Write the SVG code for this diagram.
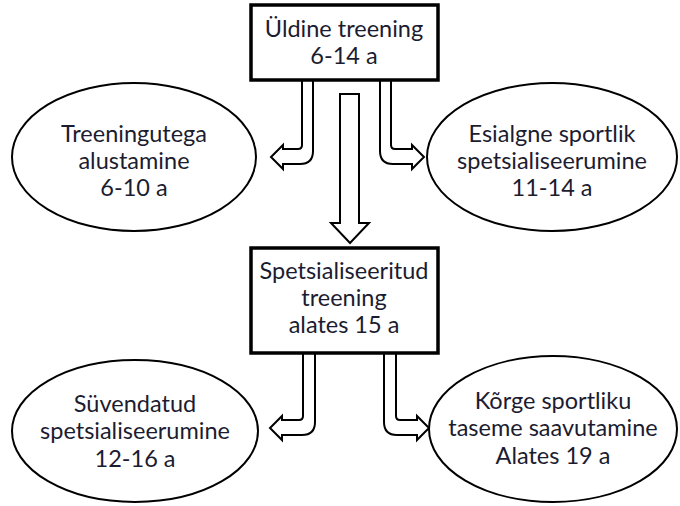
<svg xmlns="http://www.w3.org/2000/svg" width="680" height="506" viewBox="0 0 680 506">
<style>
.box{fill:#fff;stroke:#000;stroke-width:3.5}
.ell{fill:#fff;stroke:#000;stroke-width:2}
.arr{fill:#fff;stroke:#000;stroke-width:2;stroke-linejoin:miter}
text{font-family:Lato,"Open Sans","Liberation Sans",sans-serif;font-size:23.5px;fill:#1c1c30;text-anchor:middle}
</style>
<rect width="680" height="506" fill="#fff"/>
<g id="connectors">
<path class="arr" d="M302 80 L302 145 Q302 149 298 149 L283 149 L283 145 L271 157 L283 169 L283 164 L300 164 Q313 164 313 151 L313 80 Z"/>
<path class="arr" d="M391 80 L391 145 Q391 149 395 149 L412 149 L412 145 L424 157 L412 169 L412 164 L393 164 Q380 164 380 151 L380 80 Z"/>
<path class="arr" d="M340 94 L359 94 L359 223 L369 223 L350 243 L331 223 L340 223 Z"/>
<path class="arr" d="M303 353 L303 416 Q303 420 299 420 L282 420 L282 416 L270 428 L282 440 L282 435 L302 435 Q315 435 315 422 L315 353 Z"/>
<path class="arr" d="M396 353 L396 416 Q396 420 400 420 L417 420 L417 416 L429 428 L417 440 L417 435 L397 435 Q384 435 384 422 L384 353 Z"/>
</g>
<g id="n1">
<rect class="box" x="251" y="5" width="187" height="75"/>
<text x="344" y="37">Üldine treening</text>
<text x="344" y="64">6-14 a</text>
</g>
<g id="n2">
<ellipse class="ell" cx="134" cy="157" rx="122" ry="74"/>
<text x="134" y="142">Treeningutega</text>
<text x="134" y="169">alustamine</text>
<text x="134" y="196">6-10 a</text>
</g>
<g id="n3">
<ellipse class="ell" cx="552" cy="157" rx="125" ry="74"/>
<text x="552" y="142">Esialgne sportlik</text>
<text x="552" y="169">spetsialiseerumine</text>
<text x="552" y="196">11-14 a</text>
</g>
<g id="n4">
<rect class="box" x="251" y="248" width="187" height="105"/>
<text x="344" y="279">Spetsialiseeritud</text>
<text x="344" y="306">treening</text>
<text x="344" y="333">alates 15 a</text>
</g>
<g id="n5">
<ellipse class="ell" cx="135" cy="431" rx="123" ry="71"/>
<text x="135" y="412">Süvendatud</text>
<text x="135" y="439">spetsialiseerumine</text>
<text x="135" y="467">12-16 a</text>
</g>
<g id="n6">
<ellipse class="ell" cx="553" cy="429" rx="124" ry="73"/>
<text x="553" y="409">Kõrge sportliku</text>
<text x="553" y="436">taseme saavutamine</text>
<text x="553" y="464">Alates 19 a</text>
</g>
</svg>
